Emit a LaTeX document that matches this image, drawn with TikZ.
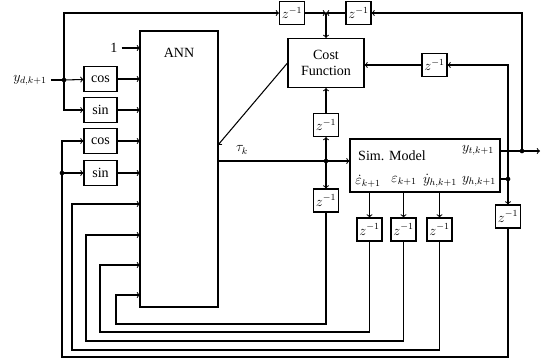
\documentclass[tikz,border=0pt]{standalone}
\usepackage{fontspec}
\setmainfont{Liberation Serif}
\usepackage{tikz}
\usetikzlibrary{arrows, positioning, calc}
\tikzstyle{block} = [rectangle, draw=black, line width=0.9pt, text centered]
\tikzstyle{delay} = [block, minimum width=0.75cm, minimum height=0.69cm, inner sep=0pt]
\tikzstyle{trig} = [block, minimum width=0.99cm, minimum height=0.75cm, inner sep=1pt]
\tikzstyle{outlbl} = [inner sep=0.5pt]
\tikzstyle{arrow} = [line width=0.9pt,->,>=to]
\tikzstyle{line} = [line width=0.9pt]

\begin{document}
\begin{tikzpicture}[x=0.03cm, y=-0.03cm, every node/.style={font=\large}]
    \useasboundingbox (0,0) rectangle (541,359);

    % network and its inputs
    \node (ann) [block, minimum width=2.34cm, minimum height=8.28cm] at (179,169) {};
    \node (annlbl) [below=0.4cm of ann.north] {ANN};
    \foreach \i/\y in {0/48, 1/79, 2/110, 3/141, 4/173, 5/204, 6/235, 7/265, 8/295}
        \coordinate (in\i) at (140,\y);

    \node (one) at (114,48) {1};
    \node (yd) at (30,80) {$y_{d,k+1}$};
    \coordinate (jd) at (64,80);
    \coordinate (jy) at (62,173);
    \node (cos1) [trig] at (100.5,79) {cos};
    \node (sin1) [trig] at (100.5,110) {sin};
    \node (cos2) [trig] at (100.5,141) {cos};
    \node (sin2) [trig] at (100.5,173) {sin};

    % cost function and delays
    \node (delA) [delay] at (292,13) {$z^{-1}$};
    \node (delB) [delay] at (358.5,13) {$z^{-1}$};
    \coordinate (cross) at (326,13);
    \node (cost) [block, align=center, minimum width=2.28cm, minimum height=1.47cm, inner sep=1pt] at (326,63) {Cost\\Function};
    \node (delC) [delay] at (434.5,65) {$z^{-1}$};
    \node (delD) [delay] at (326,125) {$z^{-1}$};
    \node (delE) [delay] at (326,200.5) {$z^{-1}$};

    % simulation model
    \node (sim) [block, minimum width=4.5cm, minimum height=1.59cm] at (425,165.5) {};
    \node (simlbl) [outlbl] at (392,156) {Sim. Model};
    \node (ytlbl) [outlbl] at (478,150) {$y_{t,k+1}$};
    \node (edlbl) [outlbl] at (368,181) {$\dot{\varepsilon}_{k+1}$};
    \node (elbl) [outlbl] at (404,181) {$\varepsilon_{k+1}$};
    \node (ydlbl) [outlbl] at (440,181) {$\dot{y}_{h,k+1}$};
    \node (yhlbl) [outlbl] at (479,181) {$y_{h,k+1}$};
    \node (delF) [delay] at (369.5,229.5) {$z^{-1}$};
    \node (delG) [delay] at (403.5,229.5) {$z^{-1}$};
    \node (delH) [delay] at (439.5,229.5) {$z^{-1}$};
    \node (delI) [delay] at (508,216.5) {$z^{-1}$};
    \node (tau) at (242,150) {$\tau_k$};

    \coordinate (jt) at (326,161);
    \coordinate (jyt) at (522,151);
    \coordinate (jyh) at (508,179);
    \coordinate (ytout) at (540,151);

    % left side
    \draw [line] (yd) -- (jd);
    \draw [arrow] (jd) -- (cos1);
    \draw [arrow] (jd) |- (sin1);
    \draw [arrow] (jd) |- (delA);
    \draw [arrow] (one) -- (in0);
    \draw [arrow] (cos1) -- (in1);
    \draw [arrow] (sin1) -- (in2);
    \draw [arrow] (cos2) -- (in3);
    \draw [arrow] (sin2) -- (in4);
    \draw [arrow] (jy) |- (cos2);
    \draw [arrow] (jy) -- (sin2);

    % top
    \draw [arrow] (delA) -- (cross);
    \draw [arrow] (delB) -- (cross);
    \draw [arrow] (cross) -- (cost);
    \draw [arrow] (jyt) |- (delB);
    \draw [arrow] (jyh) |- (delC);
    \draw [arrow] (delC) -- (delC -| cost.east);
    \draw [arrow] (cost.west) -- (218,145);

    % torque
    \draw [line] (ann.east |- jt) -- (jt);
    \draw [arrow] (jt) -- (sim.west |- jt);
    \draw [arrow] (jt) -- (delD);
    \draw [arrow] (delD) -- (cost);
    \draw [arrow] (jt) -- (delE);

    % model outputs
    \draw [arrow] (sim.east |- jyt) -- (ytout);
    \draw [line] (sim.east |- jyh) -- (jyh);
    \draw [arrow] (jyh) -- (delI);
    \draw [arrow] (sim.south -| delF) -- (delF);
    \draw [arrow] (sim.south -| delG) -- (delG);
    \draw [arrow] (sim.south -| delH) -- (delH);

    % feedback
    \draw [arrow] (delE) |- (116,324) |- (in8);
    \draw [arrow] (delF) |- (100,332) |- (in7);
    \draw [arrow] (delG) |- (86,341) |- (in6);
    \draw [arrow] (delH) |- (72,350) |- (in5);
    \draw [line] (delI) |- (62,357) -- (jy);

    \foreach \p in {jd, jy, jt, jyt, jyh}
        \fill (\p) circle (2pt);
\end{tikzpicture}
\end{document}
